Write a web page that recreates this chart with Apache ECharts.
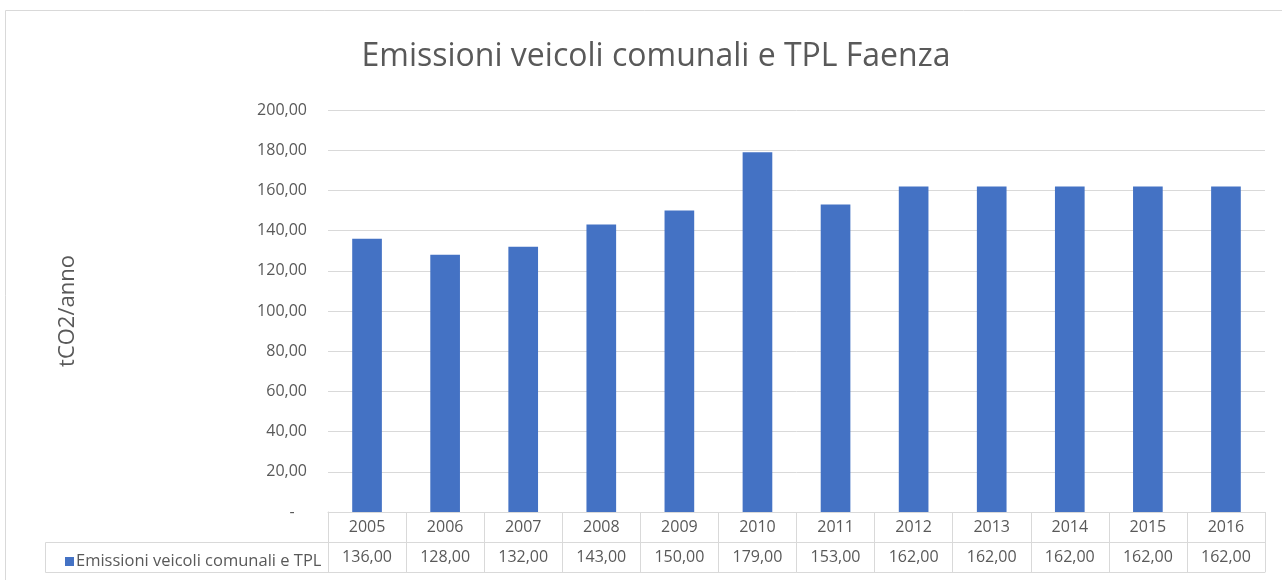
<!DOCTYPE html>
<html>
<head>
<meta charset="utf-8">
<script src="https://cdn.jsdelivr.net/npm/echarts@6/dist/echarts.min.js"></script>
<style>
html,body{margin:0;padding:0;background:#fff;}
#c{width:1282px;height:580px;}
</style>
</head>
<body>
<div id="c"></div>
<script>
var years = ['2005','2006','2007','2008','2009','2010','2011','2012','2013','2014','2015','2016'];
var emissions = [136,128,132,143,150,179,153,162,162,162,162,162];
var seriesName = 'Emissioni veicoli comunali e TPL';
var titleText = 'Emissioni veicoli comunali e TPL Faenza';
var yAxisName = 'tCO2/anno';

var FONT = '"Open Sans", "Noto Sans", sans-serif';
var TXT = '#595959';
var LINE = '#d9d9d9';
function fmt(v){ return v.toFixed(2).replace('.', ','); }

var chart = echarts.init(document.getElementById('c'));
var tableData = [];
years.forEach(function(y, i){
  tableData.push({value:[i, 1.5], txt: y});
  tableData.push({value:[i, 0.5], txt: fmt(emissions[i])});
});

chart.setOption({
  animation:false,
  backgroundColor:'#fff',
  textStyle:{fontFamily:FONT},
  title:{
    text:titleText, left:651, top:36, textAlign:'center',
    textStyle:{fontFamily:FONT, fontSize:32, fontWeight:'normal', color:TXT}
  },
  legend:{
    data:[seriesName], left:60, top:548, itemWidth:9, itemHeight:9, itemGap:0,
    icon:'rect', textStyle:{fontFamily:FONT, fontSize:16.5, color:TXT, padding:[0,0,0,-3]}
  },
  graphic:[
    {type:'rect', shape:{x:5.5, y:10.5, width:1300, height:600}, style:{fill:'none', stroke:LINE, lineWidth:1}, silent:true},
    {type:'rect', shape:{x:45.5, y:542.5, width:283, height:30}, style:{fill:'none', stroke:LINE, lineWidth:1}, silent:true}
  ],
  grid:[
    {left:328, right:17, top:110, bottom:68},
    {left:328, right:17, top:512, height:60}
  ],
  xAxis:[
    {type:'category', data:years, gridIndex:0, axisLabel:{show:false}, axisTick:{show:false},
     axisLine:{lineStyle:{color:LINE}}},
    {type:'category', data:years, gridIndex:1, axisLabel:{show:false}, axisTick:{show:false},
     axisLine:{show:true, lineStyle:{color:LINE}},
     splitLine:{show:true, interval:0, lineStyle:{color:LINE}}}
  ],
  yAxis:[
    {type:'value', gridIndex:0, min:0, max:200, interval:20,
     name:yAxisName, nameLocation:'middle', nameGap:249, nameRotate:90,
     nameTextStyle:{fontFamily:FONT, fontSize:22, color:TXT},
     axisLine:{show:false}, axisTick:{show:false},
     axisLabel:{margin:21, fontFamily:FONT, fontSize:16, color:TXT,
       formatter:function(v){ return v===0 ? '-   ' : fmt(v); }},
     splitLine:{lineStyle:{color:LINE}}},
    {type:'value', gridIndex:1, min:0, max:2, interval:1,
     axisLine:{show:true, lineStyle:{color:LINE}}, axisTick:{show:false}, axisLabel:{show:false},
     splitLine:{show:true, lineStyle:{color:LINE}}}
  ],
  series:[
    {type:'bar', name:seriesName, data:emissions, xAxisIndex:0, yAxisIndex:0,
     barWidth:'38%', itemStyle:{color:'#4472C4'}},
    {type:'custom', xAxisIndex:1, yAxisIndex:1, data:tableData, silent:true,
     renderItem:function(params, api){
       var p = api.coord([api.value(0), api.value(1)]);
       return {type:'text', x:p[0], y:p[1],
         style:{text:tableData[params.dataIndex].txt, fill:TXT, font:'16px ' + FONT,
           align:'center', verticalAlign:'middle'}};
     }}
  ]
});
</script>
</body>
</html>
